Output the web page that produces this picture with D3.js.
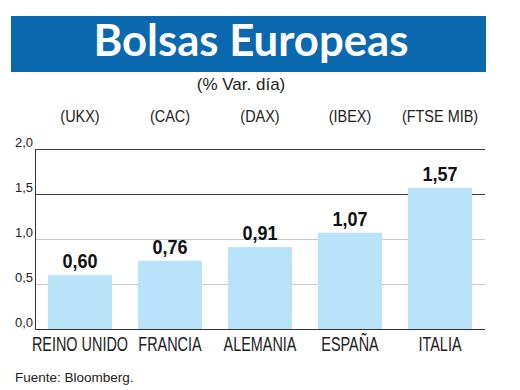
<!DOCTYPE html>
<html><head><meta charset="utf-8">
<script src="https://cdn.jsdelivr.net/npm/d3@7"></script>
<style>
html,body{margin:0;padding:0;background:#fff;}
svg{display:block;}
</style></head>
<body>
<svg id="c" width="520" height="390"></svg>
<script>
const categories = ["REINO UNIDO", "FRANCIA", "ALEMANIA", "ESPAÑA", "ITALIA"];
const tickers = ["(UKX)", "(CAC)", "(DAX)", "(IBEX)", "(FTSE MIB)"];
const values = [0.60, 0.76, 0.91, 1.07, 1.57];
const yTicks = [0, 0.5, 1.0, 1.5, 2.0];
const title = "Bolsas Europeas";
const subtitle = "(% Var. día)";
const source = "Fuente: Bloomberg.";

const svg = d3.select("#c");
const sans = "'Liberation Sans', Arial, Helvetica, sans-serif";
const fmt = v => d3.format(".2f")(v).replace(".", ",");
const fmt1 = v => d3.format(".1f")(v).replace(".", ",");

// helper: horizontally condensed text anchored at (x,y)
function ctext(sel, sx) {
  return sel.append("g").attr("class", "ct").each(function(){}).attr("data-sx", sx);
}

// Title banner
svg.append("rect").attr("x", 11).attr("y", 16).attr("width", 475).attr("height", 56).attr("fill", "#0a68ae");
svg.append("text").attr("x", 251).attr("y", 56).attr("text-anchor", "middle")
  .attr("font-family", "Lato, 'Open Sans', sans-serif").attr("font-weight", "bold")
  .attr("font-size", 44).attr("fill", "#fff")
  .attr("textLength", 315).attr("lengthAdjust", "spacingAndGlyphs")
  .text(title);
svg.append("text").attr("x", 241).attr("y", 90).attr("text-anchor", "middle")
  .attr("font-family", sans).attr("font-size", 17).attr("fill", "#222")
  .text(subtitle);

const x = d3.scaleBand().domain(categories).range([35, 485]).paddingInner(0.289).paddingOuter(0.1444);
const y = d3.scaleLinear().domain([0, 2]).range([329, 149]);
const cx = c => x(c) + x.bandwidth() / 2;

// gridlines
svg.append("g").selectAll("line").data(yTicks.filter(d => d > 0)).join("line")
  .attr("x1", 35).attr("x2", 485)
  .attr("y1", d => Math.round(y(d)) + 0.5).attr("y2", d => Math.round(y(d)) + 0.5)
  .attr("stroke", d => d >= 1.5 ? "#444" : "#c8c8c8").attr("stroke-width", 1);

// bars
svg.append("g").selectAll("rect").data(values).join("rect")
  .attr("x", (d, i) => x(categories[i])).attr("width", x.bandwidth())
  .attr("y", d => y(d)).attr("height", d => y(0) - y(d))
  .attr("fill", "#b9e3f8");

// axes lines
svg.append("line").attr("x1", 35.5).attr("x2", 35.5).attr("y1", 149).attr("y2", 329.5).attr("stroke", "#333");
svg.append("line").attr("x1", 35).attr("x2", 485).attr("y1", 329.5).attr("y2", 329.5).attr("stroke", "#333");

// y tick labels
svg.append("g").selectAll("text").data(yTicks).join("text")
  .attr("x", 33).attr("y", d => y(d) - 2).attr("text-anchor", "end")
  .attr("font-family", sans).attr("font-size", 13).attr("fill", "#222")
  .text(d => fmt1(d));

// value labels (slightly condensed bold)
svg.append("g").selectAll("text").data(values).join("text")
  .attr("transform", (d, i) => `translate(${cx(categories[i])},${y(d) - 7}) scale(0.9,1)`)
  .attr("text-anchor", "middle")
  .attr("font-family", sans).attr("font-weight", "bold")
  .attr("font-size", 20).attr("fill", "#111")
  .text(d => fmt(d));

// tickers
svg.append("g").selectAll("text").data(tickers).join("text")
  .attr("transform", (d, i) => `translate(${cx(categories[i])},122) scale(0.85,1)`)
  .attr("text-anchor", "middle")
  .attr("font-family", sans).attr("font-size", 17).attr("fill", "#222")
  .text(d => d);

// category labels (condensed)
svg.append("g").selectAll("text").data(categories).join("text")
  .attr("transform", d => `translate(${cx(d)},351) scale(0.74,1)`)
  .attr("text-anchor", "middle")
  .attr("font-family", sans).attr("font-size", 19.5).attr("fill", "#222")
  .text(d => d);

svg.append("text").attr("x", 15).attr("y", 382)
  .attr("font-family", sans).attr("font-size", 13.5).attr("fill", "#222")
  .text(source);
</script>
</body></html>
